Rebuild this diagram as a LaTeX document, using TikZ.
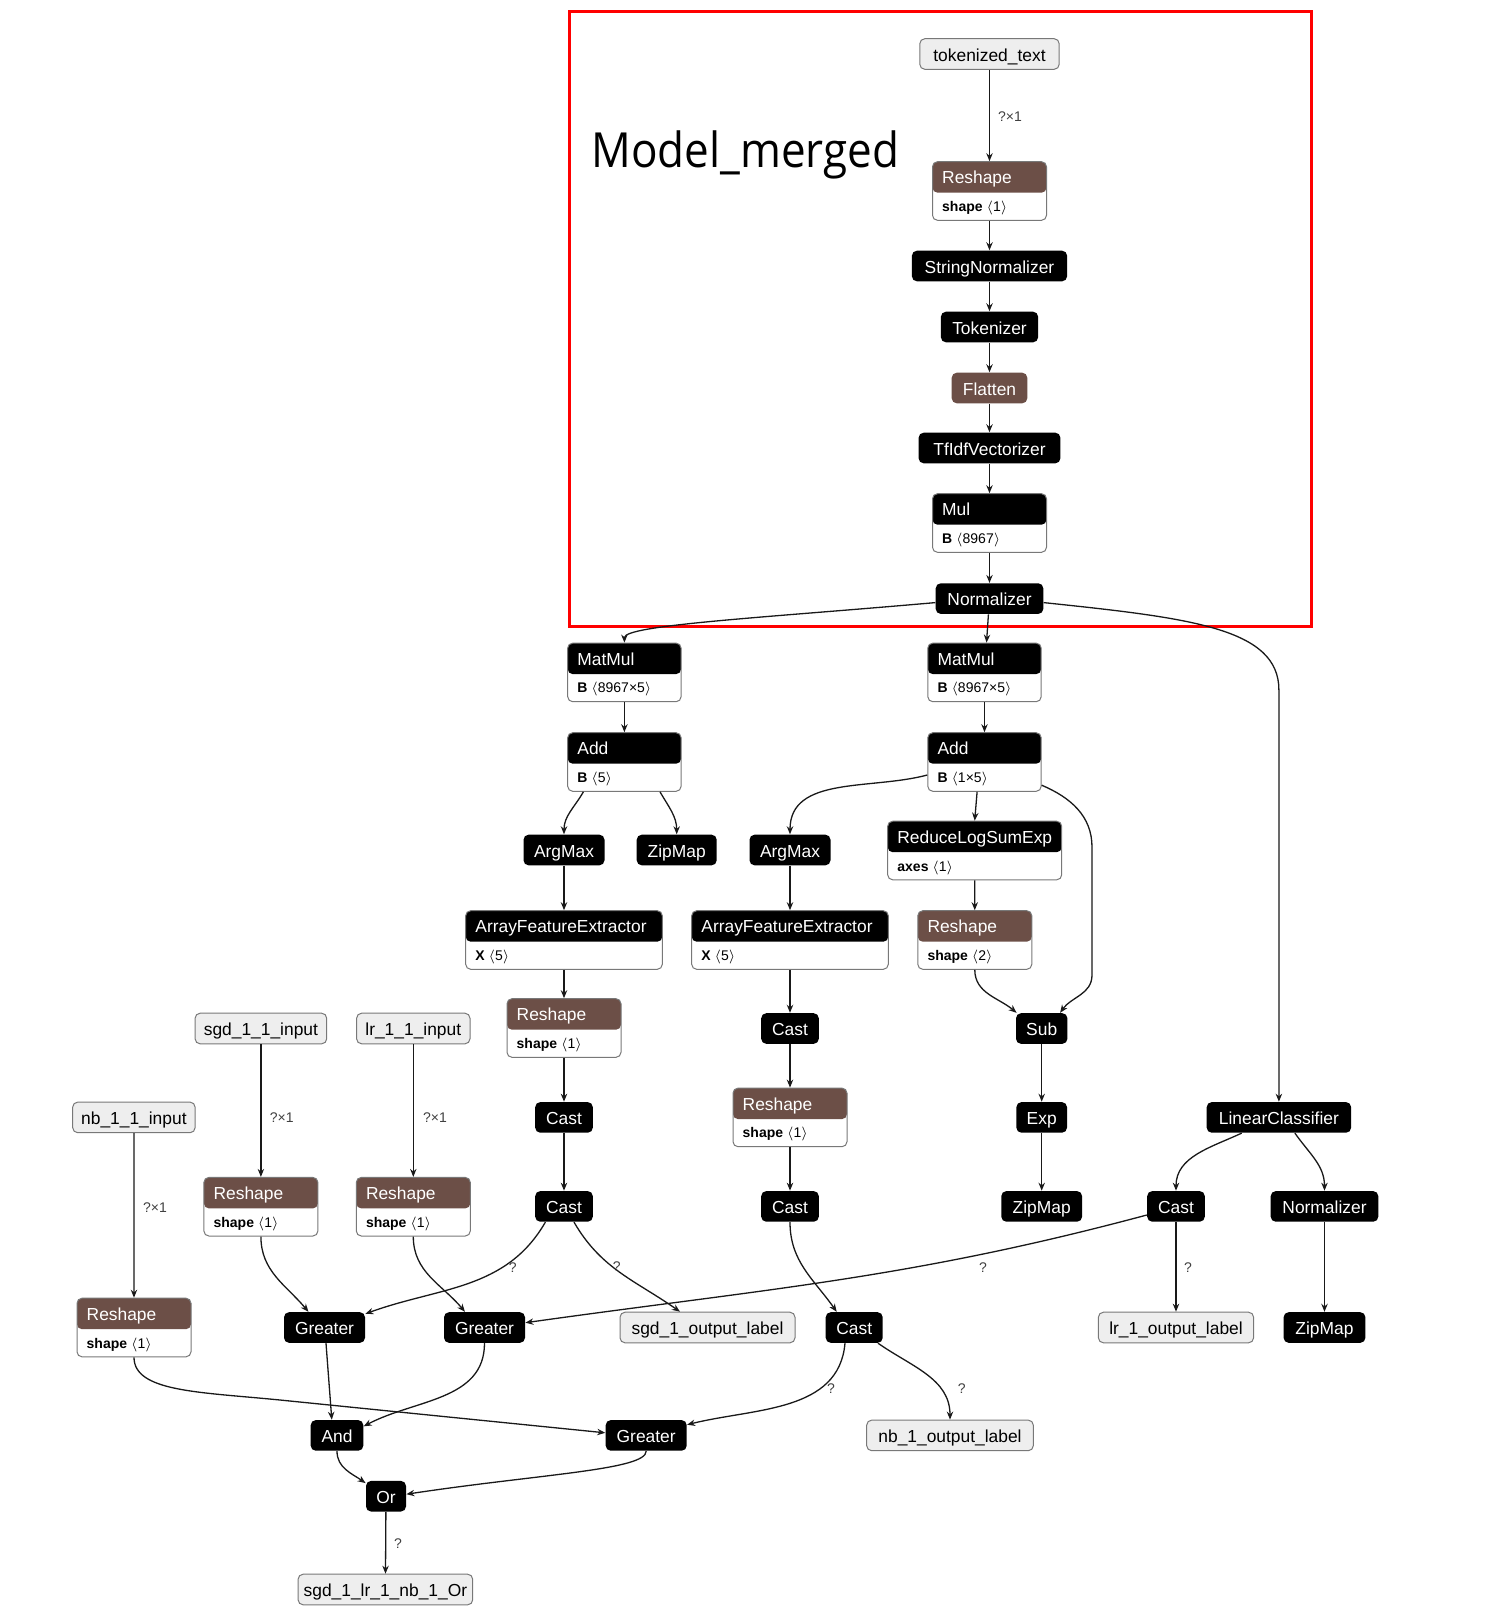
\documentclass[tikz,border=0pt]{standalone}
\usepackage{fontspec}
\setmainfont{Liberation Sans}
\newfontfamily\titlefont{Open Sans}
\usetikzlibrary{arrows.meta}
\definecolor{shapebrown}{RGB}{108,79,71}
\definecolor{inpfill}{RGB}{238,238,238}
\definecolor{boxline}{RGB}{120,120,120}
\definecolor{edgeline}{RGB}{25,25,25}
\tikzset{
  op/.style={fill=black, text=white, rounded corners=2.5pt, minimum height=15.3pt, inner sep=0pt, text height=7.8pt, text depth=0.6pt, font=\fontsize{8.7}{10}\selectfont},
  shapeop/.style={op, fill=shapebrown},
  io/.style={draw=boxline, fill=inpfill, text=black, line width=0.5pt, rounded corners=2.5pt, minimum height=15.3pt, inner sep=0pt, text height=7.8pt, text depth=0.6pt, font=\fontsize{8.7}{10}\selectfont},
  attrop/.style n args={4}{draw=boxline, line width=0.5pt, fill=white, rounded corners=2.5pt, minimum height=29.3pt, inner sep=0pt,
    path picture={
      \fill[#1] (path picture bounding box.north west) rectangle ([yshift=-15.5pt]path picture bounding box.north east);
      \node[anchor=base west, inner sep=0pt, minimum width=0pt, minimum height=0pt, text=white, font=\fontsize{8.7}{10}\selectfont] at ([xshift=4.6pt,yshift=-11pt]path picture bounding box.north west) {#2};
      \node[anchor=base west, inner sep=0pt, minimum width=0pt, minimum height=0pt, text=black, font=\fontsize{7}{8}\selectfont] at ([xshift=4.6pt,yshift=4.4pt]path picture bounding box.south west) {\textbf{#3} $\langle$#4$\rangle$};
    }},
  flow/.style={draw=edgeline, line width=0.65pt, -{Stealth[length=4pt,width=3.2pt]}},
  elbl/.style={inner sep=0pt, text=black!75, font=\fontsize{7}{8}\selectfont},
}
\begin{document}
\begin{tikzpicture}[x=0.5pt,y=-0.5pt]
\useasboundingbox (0,0) rectangle (1491,1619);

\draw[red, line width=1.5pt] (569,11.4) rectangle (1311,626.4);
\node[anchor=base west, inner sep=0pt, font=\titlefont\fontsize{22}{26}\selectfont] (title) at (591,167) {\scalebox{1}[1.1]{Model\_merged}};

\node[io, minimum width=69.7pt] (tok) at (989.5,54) {tokenized\_text};
\node[attrop={shapebrown}{Reshape}{shape}{1}, minimum width=57pt] (rs0) at (989.5,191) {};
\node[op, minimum width=77.6pt] (strnorm) at (989.5,266) {StringNormalizer};
\node[op, minimum width=48.6pt] (tokzr) at (989.5,327) {Tokenizer};
\node[shapeop, minimum width=37.8pt] (flat) at (989.5,388) {Flatten};
\node[op, minimum width=70.9pt] (tfidf) at (989.5,448) {TfIdfVectorizer};
\node[attrop={black}{Mul}{B}{8967}, minimum width=57pt] (mul) at (989.5,523) {};
\node[op, minimum width=53.8pt] (norm0) at (989.5,598.6) {Normalizer};

\node[attrop={black}{MatMul}{B}{8967×5}, minimum width=56.7pt] (mm1) at (624.4,672.4) {};
\node[attrop={black}{MatMul}{B}{8967×5}, minimum width=56.7pt] (mm2) at (984.5,672.4) {};
\node[attrop={black}{Add}{B}{5}, minimum width=56.7pt] (add1) at (624.4,762) {};
\node[attrop={black}{Add}{B}{1×5}, minimum width=56.7pt] (add2) at (984.5,762) {};
\node[op, minimum width=40.5pt] (amax1) at (564,850) {ArgMax};
\node[op, minimum width=40pt] (zip1) at (676.7,850) {ZipMap};
\node[op, minimum width=40.5pt] (amax2) at (790,850) {ArgMax};
\node[attrop={black}{ReduceLogSumExp}{axes}{1}, minimum width=87pt] (rlse) at (974.7,850.5) {};
\node[attrop={black}{ArrayFeatureExtractor}{X}{5}, minimum width=98.3pt] (afe1) at (564,940) {};
\node[attrop={black}{ArrayFeatureExtractor}{X}{5}, minimum width=98.3pt] (afe2) at (790,940) {};
\node[attrop={shapebrown}{Reshape}{shape}{2}, minimum width=57pt] (rs2) at (974.8,940) {};
\node[attrop={shapebrown}{Reshape}{shape}{1}, minimum width=57pt] (rs3) at (564,1028) {};
\node[op, minimum width=28.8pt] (cast1) at (790,1028.5) {Cast};
\node[op, minimum width=25.7pt] (sub) at (1041.7,1028.5) {Sub};

\node[io, minimum width=65.8pt] (insgd) at (260.9,1028.5) {sgd\_1\_1\_input};
\node[io, minimum width=56.7pt] (inlr) at (413.3,1028.5) {lr\_1\_1\_input};
\node[io, minimum width=61.2pt] (innb) at (133.9,1117.4) {nb\_1\_1\_input};
\node[op, minimum width=28.8pt] (cast2) at (564,1117.4) {Cast};
\node[attrop={shapebrown}{Reshape}{shape}{1}, minimum width=57pt] (rs4) at (790,1117.4) {};
\node[op, minimum width=25.3pt] (exp) at (1041.7,1117.4) {Exp};
\node[op, minimum width=72.2pt] (lc) at (1278.9,1117.4) {LinearClassifier};

\node[attrop={shapebrown}{Reshape}{shape}{1}, minimum width=57pt] (rssgd) at (260.9,1206.7) {};
\node[attrop={shapebrown}{Reshape}{shape}{1}, minimum width=57pt] (rslr) at (413.3,1206.7) {};
\node[op, minimum width=28.8pt] (cast3) at (564,1206.4) {Cast};
\node[op, minimum width=28.8pt] (cast4) at (790,1206.4) {Cast};
\node[op, minimum width=40.4pt] (zip2) at (1041.7,1206.4) {ZipMap};
\node[op, minimum width=28.8pt] (cast5) at (1176,1206.4) {Cast};
\node[op, minimum width=53.8pt] (norm2) at (1324.5,1206.4) {Normalizer};

\node[attrop={shapebrown}{Reshape}{shape}{1}, minimum width=57pt] (rsnb) at (134,1327.5) {};
\node[op, minimum width=40.5pt] (gt1) at (324.5,1327.5) {Greater};
\node[op, minimum width=40.5pt] (gt2) at (484.5,1327.5) {Greater};
\node[io, minimum width=87.5pt] (outsgd) at (707.5,1327.5) {sgd\_1\_output\_label};
\node[op, minimum width=28.5pt] (cast6) at (854.2,1327.5) {Cast};
\node[io, minimum width=77.6pt] (outlr) at (1176,1327.5) {lr\_1\_output\_label};
\node[op, minimum width=40.9pt] (zip3) at (1324.5,1327.5) {ZipMap};
\node[op, minimum width=26.3pt] (and) at (337,1435.4) {And};
\node[op, minimum width=40.5pt] (gt3) at (646.2,1435.4) {Greater};
\node[io, minimum width=83.3pt] (outnb) at (950,1435.4) {nb\_1\_output\_label};
\node[op, minimum width=20pt] (or) at (386,1496.2) {Or};
\node[io, minimum width=87.3pt] (outor) at (385.4,1589.5) {sgd\_1\_lr\_1\_nb\_1\_Or};

\draw[flow] (tok) -- (rs0) node[elbl] (ltok) at (1010,117) {?×1};
\draw[flow] (rs0) -- (strnorm);
\draw[flow] (strnorm) -- (tokzr);
\draw[flow] (tokzr) -- (flat);
\draw[flow] (flat) -- (tfidf);
\draw[flow] (tfidf) -- (mul);
\draw[flow] (mul) -- (norm0);
\draw[flow] ([yshift=-2pt]norm0.west) .. controls (760,618) and (624.4,625) .. (mm1.north);
\draw[flow] (norm0) -- (mm2);
\draw[flow] ([yshift=-2pt]norm0.east) .. controls (1190,618) and (1278.9,628) .. (1278.9,690) -- (lc.north);

\draw[flow] (mm1) -- (add1);
\draw[flow] (mm2) -- (add2);
\draw[flow] ([xshift=-20.5pt]add1.south) to[out=-120,in=90] (amax1.north);
\draw[flow] ([xshift=17.8pt]add1.south) to[out=-60,in=90] (zip1.north);
\draw[flow] ([yshift=-6.5pt]add2.west) to[out=195,in=90] (amax2.north);
\draw[flow] ([xshift=-3.7pt]add2.south) -- (rlse.north);
\draw[flow] ([yshift=3.3pt]add2.south east) to[out=-23,in=90] (1092,847) -- (1092,975) to[out=-90,in=55] ([xshift=9.2pt]sub.north);
\draw[flow] (amax1) -- (afe1);
\draw[flow] (amax2) -- (afe2);
\draw[flow] (rlse) -- (rs2);
\draw[flow] (rs2.south) to[out=-90,in=140] ([xshift=0.5pt]sub.north west);
\draw[flow] (afe1) -- (rs3);
\draw[flow] (afe2) -- (cast1);
\draw[flow] (rs3) -- (cast2);
\draw[flow] (cast1) -- (rs4);
\draw[flow] (sub) -- (exp);
\draw[flow] (cast2) -- (cast3);
\draw[flow] (rs4) -- (cast4);
\draw[flow] (exp) -- (zip2);
\draw[flow] ([xshift=-18.6pt]lc.south) to[out=205,in=90] (cast5.north);
\draw[flow] ([xshift=8pt]lc.south) to[out=-55,in=90] (norm2.north);
\draw[flow] (norm2) -- (zip3);

\draw[flow] (insgd) -- (rssgd) node[elbl] (lsgd) at (281.7,1118) {?×1};
\draw[flow] (inlr) -- (rslr) node[elbl] (llr) at (435,1118) {?×1};
\draw[flow] (innb) -- (rsnb) node[elbl] (lnb) at (155,1208) {?×1};

\draw[flow] ([xshift=-9.3pt]cast3.south) to[out=-120,in=20] ([yshift=-1pt]gt1.north east) node[elbl] (lc3a) at (512.7,1268) {?};
\draw[flow] ([xshift=5pt]cast3.south) to[out=-60,in=145] ([xshift=-13.75pt]outsgd.north) node[elbl] (lc3b) at (616.7,1266.7) {?};
\draw[flow] (rssgd.south) to[out=-90,in=130] ([xshift=-8pt]gt1.north);
\draw[flow] (rslr.south) to[out=-90,in=130] ([xshift=-9.75pt]gt2.north);
\draw[flow] ([yshift=-4.3pt]cast5.west) to[out=195,in=8] ([yshift=2.4pt]gt2.east) node[elbl] (lc5a) at (983,1268) {?};
\draw[flow] (cast5) -- (outlr) node[elbl] (lc5b) at (1188,1268) {?};
\draw[flow] (cast4.south) to[out=-90,in=125] ([xshift=-8.75pt]cast6.north);

\draw[flow] ([xshift=0.75pt]gt1.south) -- ([xshift=-2.6pt]and.north);
\draw[flow] (gt2.south) to[out=-90,in=28] ([yshift=-3.3pt]and.north east);
\draw[flow] (rsnb.south) .. controls (134,1392) and (200,1392) .. (280,1400) -- ([yshift=1.3pt]gt3.west);
\draw[flow] ([xshift=-4.6pt]cast6.south) to[out=-95,in=14] ([yshift=-2.5pt]gt3.north east) node[elbl] (lc6a) at (831,1389) {?};
\draw[flow] ([xshift=11.9pt]cast6.south) to[out=-35,in=90] (outnb.north) node[elbl] (lc6b) at (961.7,1389) {?};
\draw[flow] (and.south) to[out=-90,in=145] ([yshift=-1.3pt]or.north west);
\draw[flow] (gt3.south) .. controls (646.2,1470) and (540,1474) .. ([yshift=1pt]or.east);
\draw[flow] (or) -- (outor) node[elbl] (lor) at (398,1544) {?};
\end{tikzpicture}
\end{document}
